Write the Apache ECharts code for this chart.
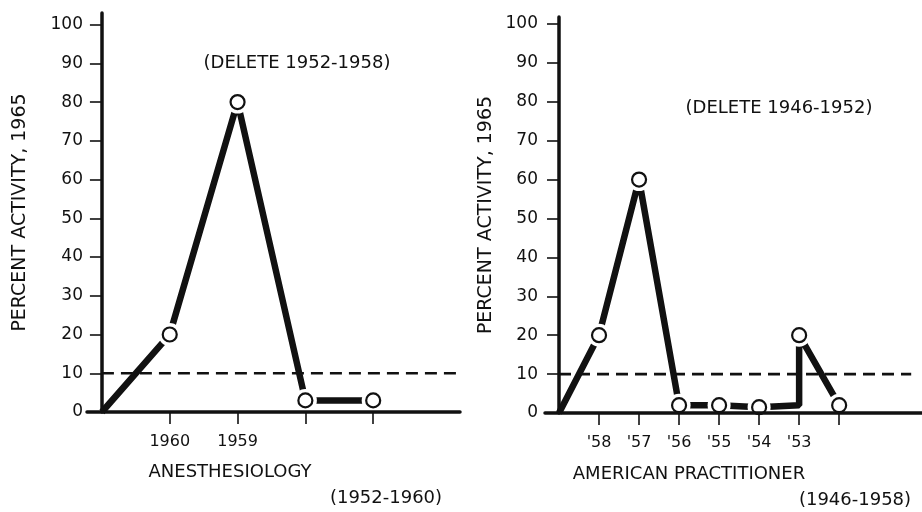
<!DOCTYPE html>
<html>
<head>
<meta charset="utf-8">
<script src="https://cdn.jsdelivr.net/npm/echarts@6/dist/echarts.min.js"></script>
<style>html,body{margin:0;padding:0;background:#fff}#c{width:922px;height:512px}</style>
</head>
<body>
<div id="c"></div>
<script>
// ---- data ----
const yTickValues = [0, 10, 20, 30, 40, 50, 60, 70, 80, 90, 100];
const threshold = 10;

// Left panel: Anesthesiology
const leftCategories = ['', '1960', '1959', '', ''];
const leftX = [0, 1, 2, 3, 4];
const leftValues = [0, 20, 80, 3, 3];
const leftMarked = [false, true, true, true, true];

// Right panel: American Practitioner
const rightCategories = ['', "'58", "'57", "'56", "'55", "'54", "'53", ''];
const rightX = [0, 1, 2, 3, 4, 5, 6, 6, 7];
const rightValues = [0, 20, 60, 2, 2, 1.5, 2, 20, 2];
const rightMarked = [false, true, true, true, true, true, false, true, true];

const yName = 'PERCENT ACTIVITY, 1965';
const leftName = 'ANESTHESIOLOGY';
const leftRange = '(1952-1960)';
const leftNote = '(DELETE 1952-1958)';
const rightName = 'AMERICAN PRACTITIONER';
const rightRange = '(1946-1958)';
const rightNote = '(DELETE 1946-1952)';

// ---- build ----
const FONT = 'DejaVu Sans';
const INK = '#111';

function pairs(xs, vs) { return xs.map((x, i) => [x, vs[i]]); }
function marked(xs, vs, m) { return xs.map((x, i) => [x, vs[i]]).filter((p, i) => m[i]); }
function tickIdx(cats) { const r = []; cats.forEach((c, i) => { if (i > 0) r.push(i); }); return r; }
function labelIdx(cats) { const r = []; cats.forEach((c, i) => { if (c) r.push(i); }); return r; }

function xAxisCfg(gi, min, max, cats) {
  return {
    gridIndex: gi, type: 'value', min: min, max: max, z: 10,
    axisLine: { show: true, onZero: true, lineStyle: { color: INK, width: 3.5 } },
    axisTick: { show: true, inside: false, length: 12, customValues: tickIdx(cats), lineStyle: { color: INK, width: 1.6 } },
    axisLabel: { show: true, customValues: labelIdx(cats), margin: 22, color: INK, fontFamily: FONT, fontSize: 16,
      formatter: v => cats[Math.round(v)] || '' },
    splitLine: { show: false }
  };
}
function yAxisCfg(gi, max, gap, lblMargin) {
  return {
    gridIndex: gi, type: 'value', min: 0, max: max, z: 10,
    axisLine: { show: true, onZero: true, lineStyle: { color: INK, width: 3.5 } },
    axisTick: { show: true, inside: false, length: 12, customValues: yTickValues, lineStyle: { color: INK, width: 1.6 } },
    axisLabel: { show: true, customValues: yTickValues, margin: lblMargin, color: INK, fontFamily: FONT, fontSize: 17 },
    splitLine: { show: false },
    name: yName, nameLocation: 'middle', nameGap: gap, nameMoveOverlap: false,
    nameTextStyle: { color: INK, fontFamily: FONT, fontSize: 19 }
  };
}
function panelSeries(gi, xs, vs, m, xEnd) {
  return [
    { type: 'line', xAxisIndex: gi, yAxisIndex: gi, data: [[0, threshold], [xEnd, threshold]],
      symbol: 'none', silent: true, z: 2, lineStyle: { color: INK, width: 2.6, type: [12, 7] } },
    { type: 'line', xAxisIndex: gi, yAxisIndex: gi, data: pairs(xs, vs), symbol: 'none', z: 3,
      lineStyle: { color: INK, width: 6.5, cap: 'butt', join: 'bevel' } },
    { type: 'scatter', xAxisIndex: gi, yAxisIndex: gi, data: marked(xs, vs, m), symbol: 'circle', symbolSize: 23,
      silent: true, z: 4, itemStyle: { color: '#fff', opacity: 1 } },
    { type: 'scatter', xAxisIndex: gi, yAxisIndex: gi, data: marked(xs, vs, m), symbol: 'circle', symbolSize: 14,
      z: 5, itemStyle: { color: '#fff', borderColor: INK, borderWidth: 2.2, opacity: 1 } }
  ];
}
function txt(x, y, s, size) {
  return { type: 'text', x: x, y: y, style: { text: s, fill: INK, font: size + 'px "' + FONT + '"', textAlign: 'center', textVerticalAlign: 'middle' } };
}

const chart = echarts.init(document.getElementById('c'));
chart.setOption({
  animation: false,
  backgroundColor: '#fff',
  textStyle: { fontFamily: FONT },
  grid: [
    { left: 87, right: 462, top: 13, bottom: 100, containLabel: false, outerBoundsMode: 'none' },
    { left: 545, right: 0, top: 17, bottom: 99, containLabel: false, outerBoundsMode: 'none' }
  ],
  xAxis: [xAxisCfg(0, -0.22, 5.28, leftCategories), xAxisCfg(1, -0.35, 9.07, rightCategories)],
  yAxis: [yAxisCfg(0, 103, 57, 4), yAxisCfg(1, 101.8, 49, 7)],
  series: [].concat(panelSeries(0, leftX, leftValues, leftMarked, 5.26), panelSeries(1, rightX, rightValues, rightMarked, 8.8)),
  graphic: [
    txt(297, 63, leftNote, 18),
    txt(230, 472, leftName, 18),
    txt(386, 498, leftRange, 18),
    txt(779, 108, rightNote, 18),
    txt(689, 474, rightName, 18),
    txt(855, 500, rightRange, 18)
  ]
});
</script>
</body>
</html>
